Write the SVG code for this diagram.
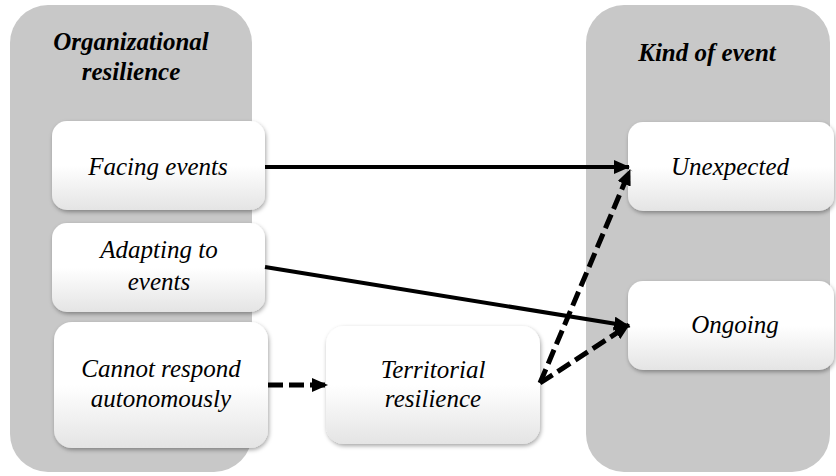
<svg xmlns="http://www.w3.org/2000/svg" width="836" height="476" viewBox="0 0 836 476">
<defs>
<linearGradient id="boxg" x1="0" y1="0" x2="0" y2="1">
<stop offset="0" stop-color="#ffffff"/>
<stop offset="0.5" stop-color="#ffffff"/>
<stop offset="1" stop-color="#e4e4e4"/>
</linearGradient>
<filter id="sh" x="-10%" y="-10%" width="125%" height="130%">
<feDropShadow dx="1" dy="2" stdDeviation="2" flood-color="#000" flood-opacity="0.35"/>
</filter>
<marker id="ah" viewBox="0 0 16 14" refX="15" refY="7" markerWidth="16" markerHeight="14" orient="auto" markerUnits="userSpaceOnUse">
<path d="M0,0 L16,7 L0,14 z" fill="#000"/>
</marker>
</defs>
<style>
.panel{fill:#c8c8c8;}
.box{fill:url(#boxg);filter:url(#sh);}
text{font-family:"Liberation Serif","Times New Roman",Times,serif;fill:#000;text-anchor:middle;font-size:25px;}
.t{font-style:italic;}
.h{font-style:italic;font-weight:bold;}
.c{stroke:#000;stroke-width:4;fill:none;marker-end:url(#ah);}
.d{stroke-width:5;stroke-dasharray:15 6;}
</style>
<rect width="836" height="476" fill="#ffffff"/>
<g id="panel-org">
<rect class="panel" x="10" y="5" width="242" height="467" rx="38"/>
<text class="h" x="131" y="50">Organizational</text>
<text class="h" x="131" y="80">resilience</text>
</g>
<g id="panel-kind">
<rect class="panel" x="586" y="5" width="244" height="467" rx="38"/>
<text class="h" x="707" y="61">Kind of  event</text>
</g>
<g id="node-facing">
<rect class="box" x="52" y="121" width="213" height="89" rx="15"/>
<text class="t" x="158" y="175">Facing events</text>
</g>
<g id="node-adapting">
<rect class="box" x="52" y="223" width="213" height="89" rx="15"/>
<text class="t" x="159" y="258">Adapting to</text>
<text class="t" x="159" y="290">events</text>
</g>
<g id="node-cannot">
<rect class="box" x="54" y="322" width="214" height="126" rx="18"/>
<text class="t" x="161" y="377">Cannot respond</text>
<text class="t" x="161" y="407">autonomously</text>
</g>
<g id="node-territorial">
<rect class="box" x="326" y="326" width="214" height="118" rx="18"/>
<text class="t" x="433" y="378">Territorial</text>
<text class="t" x="433" y="407">resilience</text>
</g>
<g id="node-unexpected">
<rect class="box" x="628" y="122" width="206" height="89" rx="15"/>
<text class="t" x="730" y="175">Unexpected</text>
</g>
<g id="node-ongoing">
<rect class="box" x="628" y="281" width="206" height="89" rx="15"/>
<text class="t" x="735" y="333">Ongoing</text>
</g>
<g id="connectors">
<line class="c" x1="265" y1="167" x2="629" y2="167"/>
<line class="c" x1="265" y1="267" x2="629" y2="326"/>
<line class="c d" x1="268" y1="385" x2="327" y2="385"/>
<line class="c d" x1="540" y1="383" x2="630" y2="170"/>
<line class="c d" x1="540" y1="383" x2="629" y2="325"/>
</g>
</svg>
